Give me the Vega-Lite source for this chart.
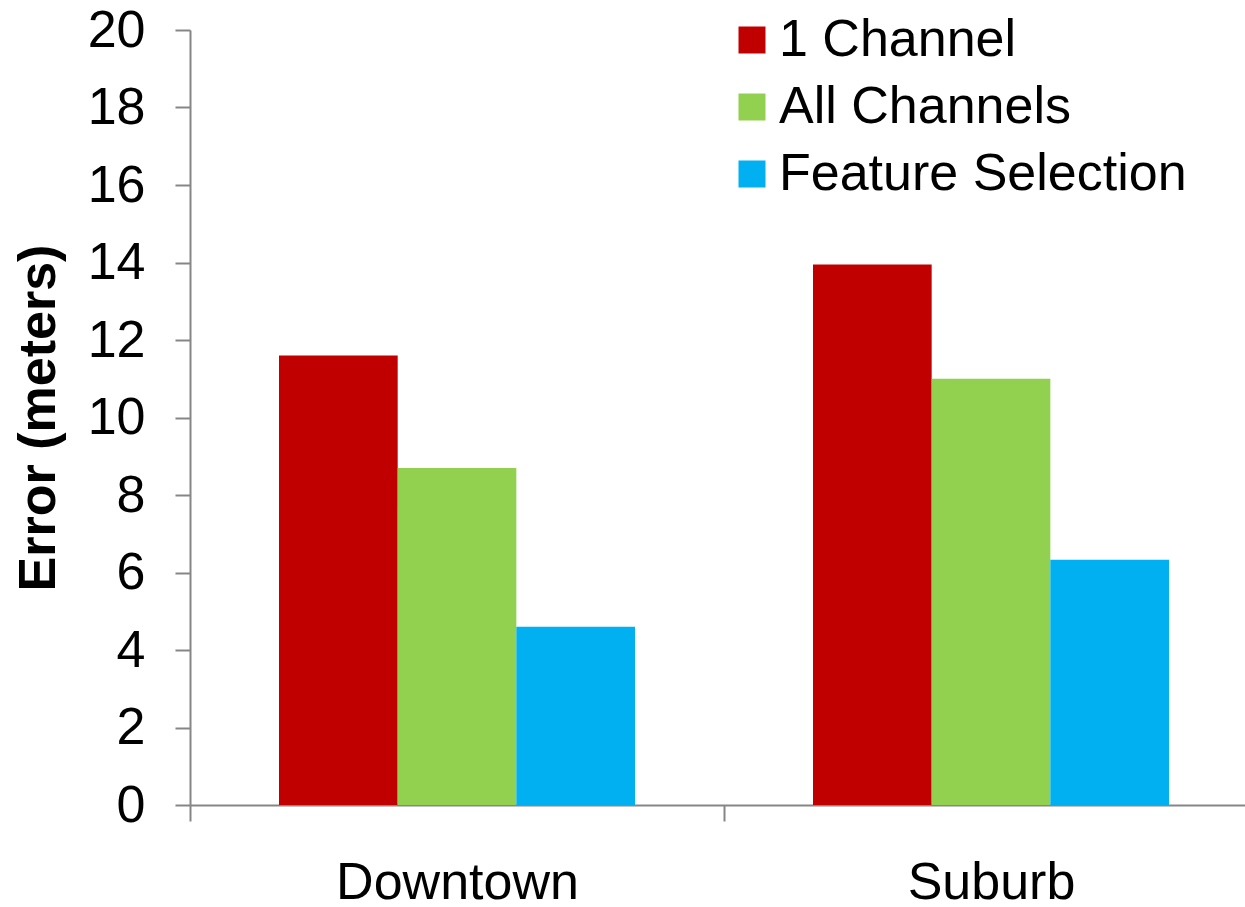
{
  "$schema": "https://vega.github.io/schema/vega-lite/v6.json",
  "width": 1055,
  "height": 775,
  "autosize": {"type": "none"},
  "padding": {"left": 190, "top": 30, "right": 0, "bottom": 102},
  "background": "white",
  "config": {"view": {"stroke": null}, "font": "Liberation Sans"},
  "data": {
    "values": [
      {"area": "Downtown", "method": "1 Channel", "error": 11.6},
      {"area": "Downtown", "method": "All Channels", "error": 8.7},
      {"area": "Downtown", "method": "Feature Selection", "error": 4.6},
      {"area": "Suburb", "method": "1 Channel", "error": 13.95},
      {"area": "Suburb", "method": "All Channels", "error": 11.0},
      {"area": "Suburb", "method": "Feature Selection", "error": 6.33}
    ]
  },
  "mark": {"type": "bar"},
  "encoding": {
    "x": {
      "field": "area",
      "type": "nominal",
      "sort": ["Downtown", "Suburb"],
      "scale": {"range": [0, 1068], "paddingInner": 0, "paddingOuter": 0},
      "axis": {
        "title": null,
        "labelAngle": 0,
        "labelLimit": 0,
        "tickBand": "extent",
        "tickSize": 16,
        "tickWidth": 2,
        "tickColor": "#868686",
        "domainColor": "#868686",
        "domainWidth": 2,
        "labelFontSize": 52,
        "labelColor": "black",
        "labelPadding": 36
      }
    },
    "xOffset": {
      "field": "method",
      "type": "nominal",
      "sort": ["1 Channel", "All Channels", "Feature Selection"],
      "scale": {"paddingInner": 0, "paddingOuter": 0.75}
    },
    "y": {
      "field": "error",
      "type": "quantitative",
      "scale": {"domain": [0, 20], "nice": false},
      "axis": {
        "values": [0, 2, 4, 6, 8, 10, 12, 14, 16, 18, 20],
        "grid": false,
        "tickSize": 15,
        "tickWidth": 2,
        "tickColor": "#868686",
        "domainColor": "#868686",
        "domainWidth": 2,
        "labelFontSize": 52,
        "labelColor": "black",
        "labelPadding": 30,
        "title": "Error (meters)",
        "titleFontSize": 52,
        "titleFontWeight": "bold",
        "titleColor": "black",
        "titlePadding": 22
      }
    },
    "color": {
      "field": "method",
      "type": "nominal",
      "sort": ["1 Channel", "All Channels", "Feature Selection"],
      "scale": {
        "domain": ["1 Channel", "All Channels", "Feature Selection"],
        "range": ["#C00000", "#92D050", "#00B0F0"]
      },
      "legend": {
        "orient": "none",
        "legendX": 536,
        "legendY": -16,
        "title": null,
        "padding": 0,
        "symbolType": "square",
        "symbolSize": 729,
        "symbolStrokeWidth": 0,
        "symbolOpacity": 1,
        "labelFontSize": 52,
        "labelColor": "black",
        "labelLimit": 0,
        "labelOffset": 1,
        "rowPadding": 15
      }
    }
  }
}
